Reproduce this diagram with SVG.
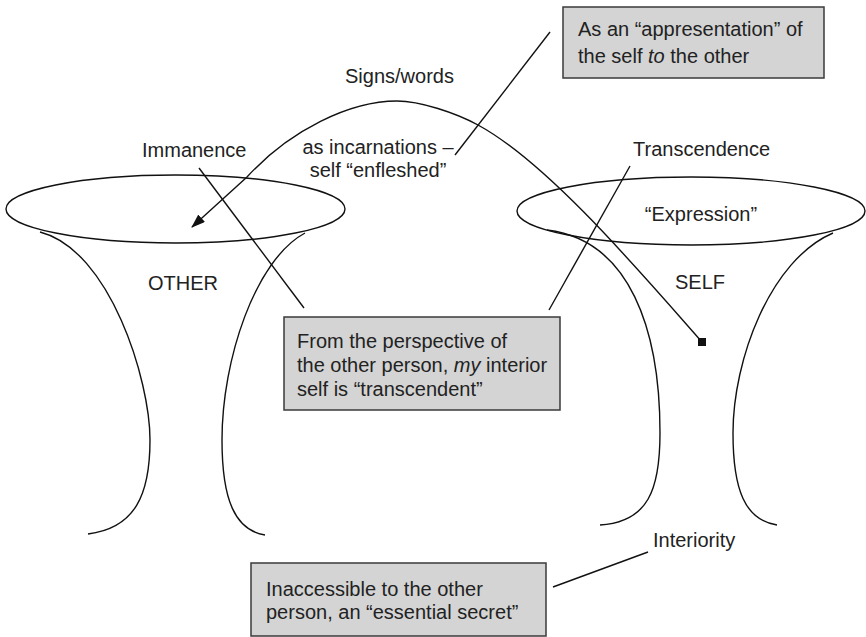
<svg xmlns="http://www.w3.org/2000/svg" width="866" height="637" viewBox="0 0 866 637">
<style>
  .t { font-family: "Liberation Sans", Arial, sans-serif; font-size: 20px; fill: #222; }
  .it { font-style: italic; }
  .shape { fill: none; stroke: #111; stroke-width: 1.4; }
  .box { fill: #d4d4d4; stroke: #3a3a3a; stroke-width: 1.5; }
  .conn { fill: none; stroke: #111; stroke-width: 1.4; }
</style>
<defs>
  <marker id="arrow" viewBox="0 0 14 10" refX="13" refY="5" markerWidth="14" markerHeight="10" markerUnits="userSpaceOnUse" orient="auto">
    <path d="M0,0 L14,5 L0,10 Z" fill="#111"/>
  </marker>
  <marker id="sq" viewBox="0 0 8 8" refX="4" refY="4" markerWidth="8" markerHeight="8" markerUnits="userSpaceOnUse">
    <rect x="0" y="0" width="8" height="8" fill="#111"/>
  </marker>
</defs>
<rect width="866" height="637" fill="#fff"/>

<g id="other">
  <ellipse class="shape" cx="175.5" cy="209" rx="169.5" ry="34"/>
  <path class="shape" d="M40,232 C110,250 150,380 150,440 C150,495 135,528 88,534"/>
  <path class="shape" d="M305,233 C255,260 222,360 222,440 C222,500 235,530 265,535"/>
  <text class="t" x="148" y="290">OTHER</text>
</g>

<g id="self">
  <ellipse class="shape" cx="691" cy="211" rx="174" ry="34"/>
  <path class="shape" d="M547,230 C630,240 660,330 660,433 C660,490 648,522 600,525"/>
  <path class="shape" d="M833,233 C770,260 733,360 733,433 C733,490 745,520 777,525"/>
  <text class="t" x="701" y="221" text-anchor="middle">“Expression”</text>
  <text class="t" x="675" y="289">SELF</text>
</g>

<g id="label-signs">
  <text class="t" x="345" y="83">Signs/words</text>
  <text class="t" x="378" y="154" text-anchor="middle">as incarnations –</text>
  <text class="t" x="378" y="177" text-anchor="middle">self “enfleshed”</text>
</g>
<g id="label-immanence"><text class="t" x="142" y="157">Immanence</text></g>
<g id="label-transcendence"><text class="t" x="633" y="156">Transcendence</text></g>
<g id="label-interiority"><text class="t" x="653" y="547">Interiority</text></g>

<g id="box-appresentation">
  <rect class="box" x="563" y="7" width="261" height="71"/>
  <text class="t" x="578" y="36">As an “appresentation” of</text>
  <text class="t" x="578" y="63">the self <tspan class="it">to</tspan> the other</text>
</g>

<g id="box-perspective">
  <rect class="box" x="284" y="317" width="276" height="93"/>
  <text class="t" x="297" y="348">From the perspective of</text>
  <text class="t" x="297" y="372">the other person, <tspan class="it">my</tspan> interior</text>
  <text class="t" x="297" y="396">self is “transcendent”</text>
</g>

<g id="box-secret">
  <rect class="box" x="251" y="563" width="295" height="73"/>
  <text class="t" x="266" y="596">Inaccessible to the other</text>
  <text class="t" x="266" y="619">person, an “essential secret”</text>
</g>

<g id="connectors">
  <path class="conn" marker-start="url(#sq)" marker-end="url(#arrow)" d="M702,342 C642,274 548,163 478,125 C456,113 420,101 397,101 C350,101 290,130 247,177 L192,227"/>
  <line class="conn" x1="199" y1="168" x2="304" y2="308"/>
  <line class="conn" x1="630" y1="166" x2="549" y2="310"/>
  <line class="conn" x1="550" y1="32" x2="455" y2="155"/>
  <line class="conn" x1="648" y1="552" x2="553" y2="587"/>
</g>
</svg>
